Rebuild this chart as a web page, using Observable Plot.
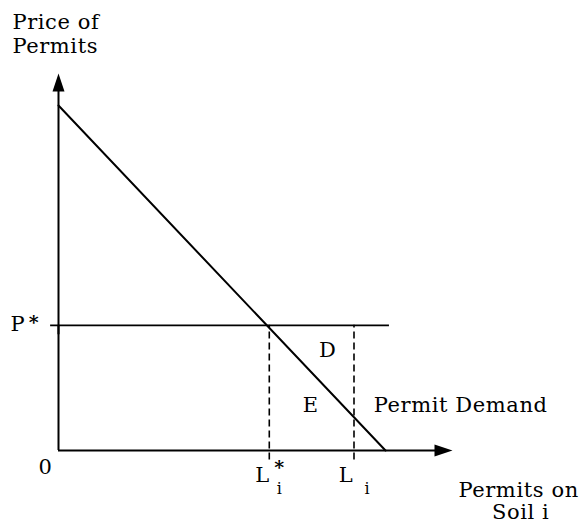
<!DOCTYPE html>
<html>
<head>
<meta charset="utf-8">
<script src="https://cdn.jsdelivr.net/npm/d3@7"></script>
<script src="https://cdn.jsdelivr.net/npm/@observablehq/plot@0.6"></script>
<style>
  html, body { margin: 0; padding: 0; background: #fff; }
  svg text { letter-spacing: 0.6px; }
</style>
</head>
<body>
<div id="chart"></div>
<script>
// Schematic values (arbitrary units)
const demandPoints = [{x: 0, y: 91.5}, {x: 83, y: 0}];
const pStar = 33.2;
const lStar = 53.5;
const lI = 75;
const pLineEnd = 84;
const axisEnd = 100;

const startLabels = [
  {x: -11.7, y: 113.5, text: "Price of"},
  {x: -11.7, y: 107.2, text: "Permits"},
  {x: -12.2, y: 33.4, text: "P"},
  {x: 80.0, y: 11.9, text: "Permit Demand"},
  {x: 101.5, y: -10.6, text: "Permits on"}
];
const middleLabels = [
  {x: -3.3, y: -4.5, text: "0"},
  {x: 51.8, y: -6.6, text: "L"},
  {x: 73.0, y: -6.6, text: "L"},
  {x: 68.3, y: 26.5, text: "D"},
  {x: 64.0, y: 11.9, text: "E"},
  {x: 117.3, y: -16.4, text: "Soil i"}
];
const starLabels = [
  {x: -6.2, y: 33.9, text: "*"},
  {x: 56.1, y: -4.6, text: "*"}
];
const subLabels = [
  {x: 56.1, y: -10.1, text: "i"},
  {x: 78.4, y: -10.1, text: "i"}
];

const arrowHead = {
  draw(context) {
    context.moveTo(0, 0);
    context.lineTo(6, 18);
    context.lineTo(-6, 18);
    context.closePath();
  }
};

const font = 21;
const chart = Plot.plot({
  width: 583,
  height: 527,
  margin: 0,
  x: {domain: [0, 100], range: [58, 452], axis: null},
  y: {domain: [0, 100], range: [450, 73], axis: null},
  style: {fontFamily: "'DejaVu Serif', serif", background: "#fff", color: "#000"},
  marks: [
    Plot.ruleX([0], {y1: 0, y2: axisEnd - 2, stroke: "#000", strokeWidth: 2}),
    Plot.ruleY([0], {x1: 0, x2: axisEnd - 2, stroke: "#000", strokeWidth: 2}),
    Plot.dot([{x: 0, y: axisEnd}], {x: "x", y: "y", symbol: arrowHead, fill: "#000", stroke: "none"}),
    Plot.dot([{x: axisEnd, y: 0}], {x: "x", y: "y", symbol: arrowHead, rotate: 90, fill: "#000", stroke: "none"}),
    Plot.ruleY([pStar], {x1: -2, x2: pLineEnd, stroke: "#000", strokeWidth: 1.8}),
    Plot.ruleX([0], {y1: pStar - 2.5, y2: pStar, stroke: "#000", strokeWidth: 2}),
    Plot.ruleX([lStar, lI], {y1: -2.5, y2: pStar, stroke: "#000", strokeWidth: 1.6, strokeDasharray: "7,4"}),
    Plot.line(demandPoints, {x: "x", y: "y", stroke: "#000", strokeWidth: 2}),
    Plot.text(startLabels, {x: "x", y: "y", text: "text", textAnchor: "start", fontSize: font, fill: "#000"}),
    Plot.text(middleLabels, {x: "x", y: "y", text: "text", textAnchor: "middle", fontSize: font, fill: "#000"}),
    Plot.text(starLabels, {x: "x", y: "y", text: "text", textAnchor: "middle", fontSize: 19, fontWeight: "bold", fill: "#000"}),
    Plot.text(subLabels, {x: "x", y: "y", text: "text", textAnchor: "middle", fontSize: 16, fill: "#000"})
  ]
});
document.getElementById("chart").appendChild(chart);
</script>
</body>
</html>
